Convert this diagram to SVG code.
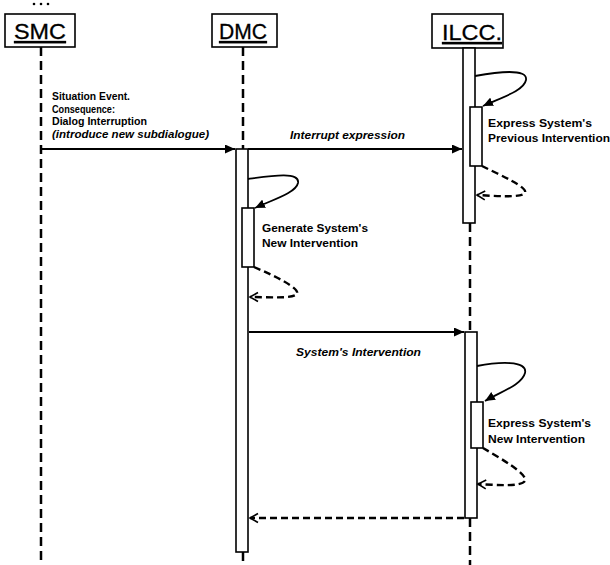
<svg xmlns="http://www.w3.org/2000/svg" width="610" height="565" viewBox="0 0 610 565">
<style>
.box{fill:#fff;stroke:#000;stroke-width:1.6}
.bar{fill:#fff;stroke:#000;stroke-width:1.6}
.life{fill:none;stroke:#000;stroke-width:2.5;stroke-dasharray:9 5}
.title{font-family:"Liberation Sans",Arial,sans-serif;font-size:22px;text-decoration:underline;fill:#000;stroke:#000;stroke-width:0.3}
.lbl{font-family:"Liberation Sans",Arial,sans-serif;font-size:11.5px;font-weight:bold;fill:#000}
.it{font-style:italic}
.msg{fill:none;stroke:#000;stroke-width:1.8}
.ret{fill:none;stroke:#000;stroke-width:2.4;stroke-dasharray:7 4}
</style>
<defs>
<marker id="fill" markerUnits="userSpaceOnUse" markerWidth="11" markerHeight="9" refX="10" refY="4.5" orient="auto">
<path d="M0,0 L10,4.5 L0,9 z" fill="#000"/>
</marker>
<marker id="open" markerUnits="userSpaceOnUse" markerWidth="12" markerHeight="12" refX="9" refY="5.5" orient="auto">
<path d="M1,1 L9,5.5 L1,10" fill="none" stroke="#000" stroke-width="1.6"/>
</marker>
</defs>
<rect width="610" height="565" fill="#fff"/>

<g id="SMC">
<circle cx="34" cy="4" r="1.3"/><circle cx="41" cy="4" r="1.3"/><circle cx="48" cy="4" r="1.3"/>
<rect class="box" x="5" y="14" width="70" height="33"/>
<text class="title" x="40" y="39" text-anchor="middle" textLength="52" lengthAdjust="spacingAndGlyphs">SMC</text>
<path class="life" d="M41,47 V565"/>
</g>

<g id="DMC">
<rect class="box" x="212" y="14" width="65" height="33"/>
<text class="title" x="243" y="39" text-anchor="middle" textLength="48" lengthAdjust="spacingAndGlyphs">DMC</text>
<path class="life" d="M243,47 V149"/>
<rect class="bar" x="236" y="149" width="12" height="403"/>
<rect class="bar" x="242" y="208" width="12" height="59"/>
<path class="life" d="M243,552 V565"/>
<text class="lbl" x="262" y="232" textLength="106" lengthAdjust="spacingAndGlyphs">Generate System's</text>
<text class="lbl" x="262" y="247" textLength="96" lengthAdjust="spacingAndGlyphs">New Intervention</text>
</g>

<g id="ILCC">
<rect class="box" x="432" y="14" width="71" height="34"/>
<text class="title" x="472" y="40" text-anchor="middle" textLength="60" lengthAdjust="spacingAndGlyphs">ILCC.</text>
<rect class="bar" x="463" y="48" width="12" height="175"/>
<rect class="bar" x="470" y="107" width="12" height="59"/>
<path class="life" d="M470,223 V332"/>
<rect class="bar" x="465" y="332" width="12" height="186"/>
<rect class="bar" x="471" y="402" width="12" height="46"/>
<path class="life" d="M470,518 V565"/>
<text class="lbl" x="488" y="127" textLength="104" lengthAdjust="spacingAndGlyphs">Express System's</text>
<text class="lbl" x="488" y="142" textLength="122" lengthAdjust="spacingAndGlyphs">Previous Intervention</text>
<text class="lbl" x="488" y="427" textLength="103" lengthAdjust="spacingAndGlyphs">Express System's</text>
<text class="lbl" x="488" y="443" textLength="97" lengthAdjust="spacingAndGlyphs">New Intervention</text>
</g>

<g id="connectors">
<path class="msg" d="M41,149 H235" marker-end="url(#fill)"/>
<text class="lbl" x="52" y="100" textLength="78" lengthAdjust="spacingAndGlyphs">Situation Event.</text>
<text class="lbl" x="52" y="112.5" textLength="63" lengthAdjust="spacingAndGlyphs">Consequence:</text>
<text class="lbl" x="52" y="125" textLength="95" lengthAdjust="spacingAndGlyphs">Dialog Interruption</text>
<text class="lbl it" x="52" y="138" textLength="157" lengthAdjust="spacingAndGlyphs">(introduce new subdialogue)</text>

<path class="msg" d="M248,149 H462" marker-end="url(#fill)"/>
<text class="lbl it" x="290" y="139" textLength="115" lengthAdjust="spacingAndGlyphs">Interrupt expression</text>

<path class="msg" d="M475,76 C497,72 528,68 526,80 C524,91 500,98 483,106" marker-end="url(#fill)"/>
<path class="ret" d="M482,166 C500,175 528,187 525,193 C521,198 496,196 477,195" marker-end="url(#open)"/>

<path class="msg" d="M248,179 C270,176 300,171 298,183 C296,193 272,200 255,208" marker-end="url(#fill)"/>
<path class="ret" d="M254,267 C275,276 300,288 297,294 C293,299 268,297 250,297" marker-end="url(#open)"/>

<path class="msg" d="M249,332 H464" marker-end="url(#fill)"/>
<text class="lbl it" x="296" y="356" textLength="125" lengthAdjust="spacingAndGlyphs">System's Intervention</text>

<path class="msg" d="M477,366 C498,362 528,360 525,373 C522,385 500,392 485,401" marker-end="url(#fill)"/>
<path class="ret" d="M483,448 C500,458 528,474 525,481 C521,487 496,485 478,484" marker-end="url(#open)"/>

<path class="ret" d="M464,518 H250" marker-end="url(#open)"/>
</g>
</svg>
